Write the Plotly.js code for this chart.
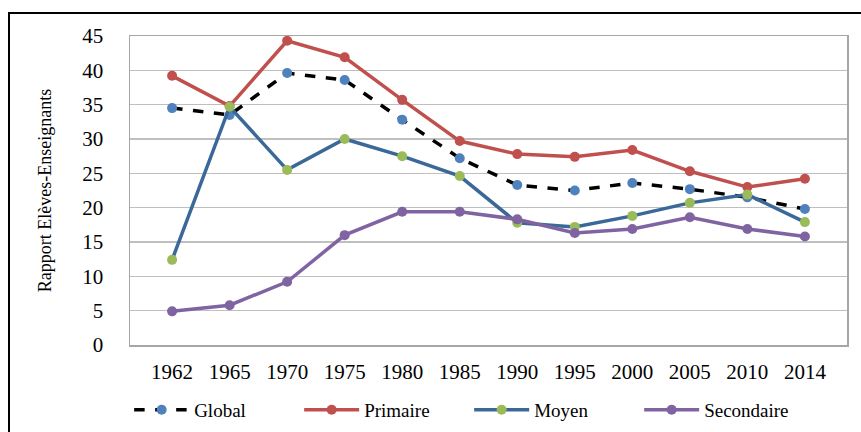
<!DOCTYPE html>
<html>
<head>
<meta charset="utf-8">
<script src="https://cdn.plot.ly/plotly-3.0.1.min.js"></script>
<style>
html,body{margin:0;padding:0;background:#fff;}
#wrap{position:relative;width:861px;height:432px;}
#chart{width:861px;height:432px;}
#frame{position:absolute;left:8px;top:12px;width:853px;height:420px;border-left:2px solid #000;border-top:2px solid #000;pointer-events:none;}
</style>
</head>
<body>
<div id="wrap"><div id="chart"></div><div id="frame"></div></div>
<script>
const years = ["1962","1965","1970","1975","1980","1985","1990","1995","2000","2005","2010","2014"];
const globalVals = [34.5,33.5,39.6,38.6,32.8,27.2,23.3,22.5,23.6,22.7,21.5,19.8];
const primaireVals = [39.2,34.8,44.3,41.9,35.7,29.7,27.8,27.4,28.4,25.3,23.0,24.2];
const moyenVals = [12.4,34.7,25.5,30.0,27.5,24.6,17.8,17.2,18.8,20.7,21.9,17.9];
const secondaireVals = [4.9,5.8,9.2,16.0,19.4,19.4,18.3,16.3,16.9,18.6,16.9,15.8];
const seriesNames = ["Global","Primaire","Moyen","Secondaire"];

const serif = '"Liberation Serif", "Times New Roman", serif';
const traces = [
  {x: years, y: globalVals, name: seriesNames[0], mode: "lines+markers",
   line: {color: "#000000", width: 3.5, dash: "dash"},
   marker: {color: "#4F81BD", size: 10}},
  {x: years, y: primaireVals, name: seriesNames[1], mode: "lines+markers",
   line: {color: "#C0504D", width: 3.5},
   marker: {color: "#C0504D", size: 10}},
  {x: years, y: moyenVals, name: seriesNames[2], mode: "lines+markers",
   line: {color: "#3A6898", width: 3.5},
   marker: {color: "#9BBB59", size: 10}},
  {x: years, y: secondaireVals, name: seriesNames[3], mode: "lines+markers",
   line: {color: "#8064A2", width: 3.5},
   marker: {color: "#8064A2", size: 10}}
];

const layout = {
  width: 861, height: 432,
  font: {family: serif},
  margin: {l: 130, r: 14, t: 36, b: 87, autoexpand: false},
  paper_bgcolor: "#ffffff", plot_bgcolor: "#ffffff",
  showlegend: true,
  legend: {orientation: "h", xref: "container", yref: "container", x: 0.15, xanchor: "left",
           y: 0.051, yanchor: "middle", entrywidthmode: "pixels", entrywidth: 100,
           font: {family: serif, size: 19, color: "#000"}, itemwidth: 55, tracegroupgap: 0},
  xaxis: {type: "category", showgrid: false, zeroline: false,
          showline: true, mirror: true, linecolor: "#A6A6A6", linewidth: 1.5,
          ticks: "", ticklabelstandoff: 7,
          tickfont: {family: serif, size: 21, color: "#000"}},
  yaxis: {range: [0, 45], dtick: 5, tick0: 0, showgrid: true, gridcolor: "#BFBFBF", gridwidth: 1.5,
          zeroline: false, showline: true, mirror: true, linecolor: "#A6A6A6", linewidth: 1.5,
          ticks: "", ticklabelstandoff: 21,
          tickfont: {family: serif, size: 21, color: "#000"},
          title: {text: "Rapport Elèves-Enseignants", standoff: 26,
                  font: {family: serif, size: 18, color: "#000"}}}
};

Plotly.newPlot("chart", traces, layout, {displayModeBar: false, staticPlot: true});
</script>
</body>
</html>
